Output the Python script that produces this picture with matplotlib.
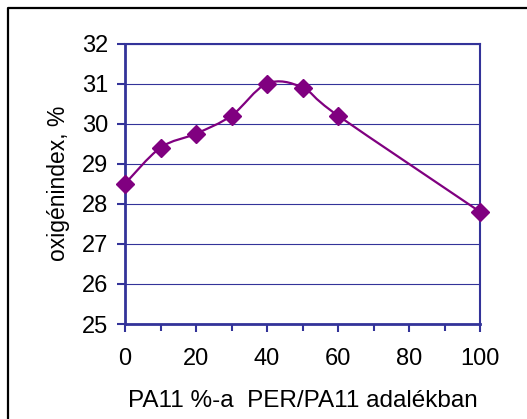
import numpy as np
import matplotlib
matplotlib.use("Agg")
import matplotlib.pyplot as plt
from matplotlib.path import Path
from matplotlib.patches import PathPatch
import matplotlib.ticker as mticker

# --------- adatok ---------
pa11_pct = [0, 10, 20, 30, 40, 50, 60, 100]
oxigen_index = [28.5, 29.4, 29.75, 30.2, 31.0, 30.9, 30.2, 27.8]
x_ticks = [0, 20, 40, 60, 80, 100]
y_ticks = [25, 26, 27, 28, 29, 30, 31, 32]

NAVY = "#333399"
PURPLE = "#800080"
plt.rcParams["font.family"] = ["Liberation Sans", "DejaVu Sans"]


def smooth_path(xs, ys):
    # Excel-szeru simitott vonal: Catmull-Rom -> Bezier
    pts = np.column_stack([xs, ys]).astype(float)
    verts = [pts[0]]
    codes = [Path.MOVETO]
    n = len(pts)
    for i in range(n - 1):
        p0 = pts[i - 1] if i > 0 else pts[i]
        p1 = pts[i]
        p2 = pts[i + 1]
        p3 = pts[i + 2] if i + 2 < n else pts[i + 1]
        c1 = p1 + (p2 - p0) / 6.0
        c2 = p2 - (p3 - p1) / 6.0
        verts += [c1, c2, p2]
        codes += [Path.CURVE4] * 3
    return Path(verts, codes)


fig = plt.figure(figsize=(5.27, 4.19), dpi=100)
ax = fig.add_axes([125 / 527, 1 - 324 / 419, 355 / 527, 280.5 / 419])

ax.set_xlim(0, 100)
ax.set_ylim(25, 32)

ax.grid(True, axis="y", color=NAVY, linewidth=0.8)
ax.set_axisbelow(True)

ax.add_patch(PathPatch(smooth_path(pa11_pct, oxigen_index), fill=False,
                       edgecolor=PURPLE, linewidth=1.6, zorder=3))
ax.plot(pa11_pct, oxigen_index, linestyle="none", marker="D", markersize=9,
        color=PURPLE, zorder=4, clip_on=False)

for side in ["left", "bottom"]:
    ax.spines[side].set_color(NAVY)
    ax.spines[side].set_linewidth(2.0)
for side in ["top", "right"]:
    ax.spines[side].set_color(NAVY)
    ax.spines[side].set_linewidth(1.5)

ax.set_yticks(y_ticks)
ax.set_xticks(x_ticks)
ax.xaxis.set_minor_locator(mticker.MultipleLocator(10))
ax.tick_params(axis="both", which="both", direction="out", color=NAVY,
               width=1.5, labelsize=17, labelcolor="black")
ax.tick_params(axis="y", length=6, pad=6)
ax.tick_params(axis="x", which="both", length=6, pad=11.5)
ax.tick_params(axis="x", which="minor", length=5)

fig.text(303 / 527, 1 - 406.5 / 419, "PA11 %-a  PER/PA11 adalékban",
         ha="center", va="baseline", fontsize=17.5)
fig.text(58 / 527, 1 - 183.5 / 419, "oxigénindex, %", rotation=90,
         ha="center", va="center", fontsize=16.5)

# kulso keret (csak bal es felso oldal latszik)
fig.add_artist(plt.Line2D([7.5 / 527, 7.5 / 527, 1.0],
                          [0.0, 1 - 8.5 / 419, 1 - 8.5 / 419],
                          transform=fig.transFigure, color="black", linewidth=1.6))

fig.savefig("out.png", dpi=100)
